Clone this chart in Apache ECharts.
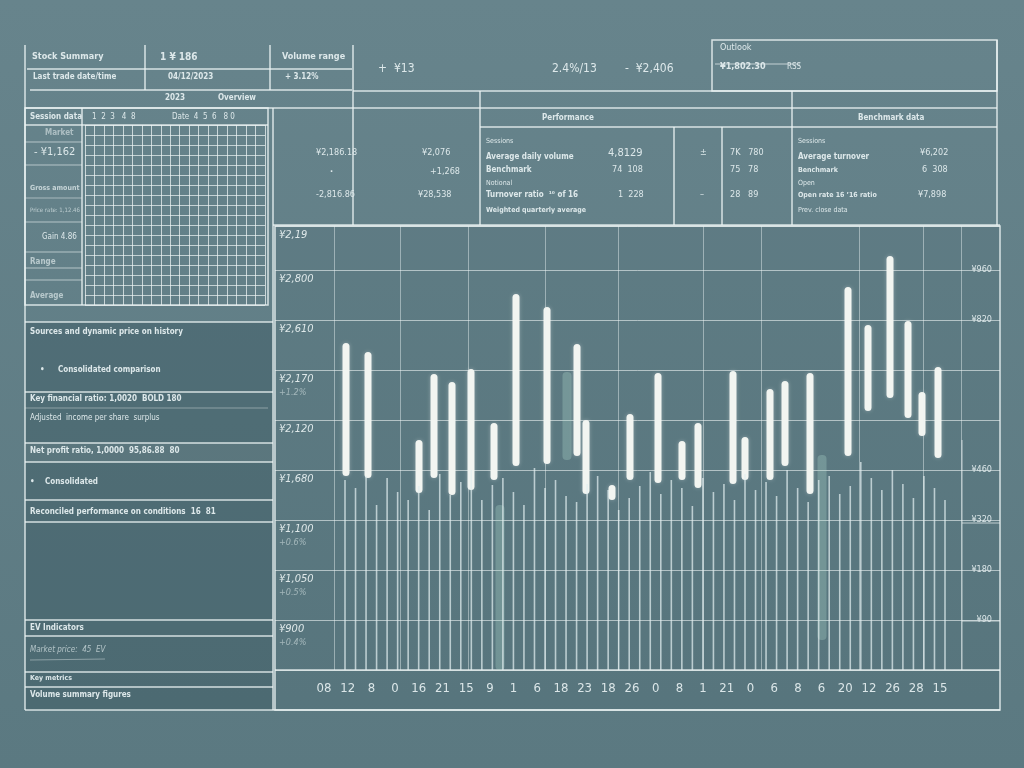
<!DOCTYPE html>
<html>
<head>
<meta charset="utf-8">
<script src="https://cdn.jsdelivr.net/npm/echarts@6/dist/echarts.min.js"></script>
<style>
html,body{margin:0;padding:0;background:#5f7d85;}
#main{width:1024px;height:768px;}
</style>
</head>
<body>
<div id="main"></div>
<script>
// ---- Data ----
const candleX    = [7.1, 9.3, 14.4, 15.9, 17.7, 19.6, 21.9, 24.1, 27.2, 30.2, 31.1, 33.7, 35.5, 38.3, 40.7, 42.3, 45.8, 47.0, 49.5, 51.0, 53.5, 57.3, 59.3, 61.5, 63.3, 64.7, 66.3];
const candleLow  = [1940, 1920, 1770, 1920, 1750, 1800, 1900, 2040, 2060, 2140, 1760, 1700, 1900, 1870, 1900, 1820, 1860, 1900, 1900, 2040, 1760, 2140, 2590, 2720, 2520, 2340, 2120];
const candleHigh = [3270, 3180, 2300, 2960, 2880, 3010, 2470, 3760, 3630, 3260, 2500, 1850, 2560, 2970, 2290, 2470, 2990, 2330, 2810, 2890, 2970, 3830, 3450, 4140, 3490, 2780, 3030];

const volumeValues = [1900, 1820, 1940, 1650, 1920, 1780, 1700, 1840, 1600, 1960, 1750, 1880, 2000, 1700, 1850, 1920, 1780, 1650, 2020, 1820, 1900, 1740, 1680, 1860, 1940, 1800, 1600, 1720, 1840, 1980, 1760, 1900, 1820, 1640, 1920, 1780, 1860, 1700, 1960, 1800, 1880, 1740, 2000, 1820, 1680, 1900, 1940, 1760, 1840, 2080, 1920, 1800, 2000, 1860, 1720, 1940, 1820, 1700];

const highlightX    = [22.5, 29.2, 54.7];
const highlightLow  = [0, 2100, 300];
const highlightHigh = [1650, 2980, 2150];

const verticalGridX = [5.9, 12.5, 19.3, 27.0, 34.3, 42.8, 48.6, 58.4, 64.8, 68.6];

const dayLabels = ['08','12','8','0','16','21','15','9','1','6','18','23','18','26','0','8','1','21','0','6','8','6','20','12','26','28','15'];

const leftTickValues = [500, 1000, 1500, 2000, 2500, 3000, 3500, 4000, 4440];
const leftTickLabels = ['¥900', '¥1,050', '¥1,100', '¥1,680', '¥2,120', '¥2,170', '¥2,610', '¥2,800', '¥2,19'];
const leftTickSub    = ['+0.4%', '+0.5%', '+0.6%', '', '', '+1.2%', '', '', ''];
const rightTickValues = [125, 250, 375, 500, 875, 1000];
const rightTickLabels = ['¥90', '¥180', '¥320', '¥460', '¥820', '¥960'];

const tableCols = ['1','2','3','4','5','6','7','8','9','10','11','12','13','14','15','16','17','18','19'];
const tableRows = ['1','2','3','4','5','6','7','8','9','10','11','12','13','14','15','16','17','18'];

// ---- Decoration (panels, header texts) ----
const LC = 'rgba(236,243,243,0.85)';
const TC = '#dde8ea';
const FONT = 'DejaVu Sans Condensed, DejaVu Sans, sans-serif';
const g = [];
function L(x1, y1, x2, y2, op, w) {
  g.push({type:'line', silent:true, shape:{x1:x1, y1:y1, x2:x2, y2:y2},
    style:{stroke: op ? 'rgba(236,243,243,' + op + ')' : LC, lineWidth: w || 1.5}});
}
function T(x, y, text, size, opt) {
  opt = opt || {};
  g.push({type:'text', silent:true, x:x, y:y,
    style:{text:text, fill: opt.fill || TC, font: (opt.style || '') + ' ' + (opt.weight || 'bold') + ' ' + (size || 9) + 'px ' + FONT,
      align: opt.align || 'left', verticalAlign:'middle', textAlign: opt.align || 'left', textVerticalAlign:'middle', opacity: opt.op || 1}});
}
function R(x, y, w, h, fill, stroke) {
  g.push({type:'rect', silent:true, shape:{x:x, y:y, width:w, height:h},
    style:{fill: fill || 'none', stroke: stroke || null, lineWidth: 1.5}});
}

// shaded panels
R(25, 322, 248, 388, 'rgba(40,70,80,0.30)');
R(25, 443, 248, 19, 'rgba(255,255,255,0.07)');
R(275, 226, 725, 484, 'rgba(40,70,80,0.08)');

// top-left table
L(25, 45, 25, 710); L(353, 45, 353, 225);
L(145, 45, 145, 90); L(270, 45, 270, 90);
L(27, 69, 352, 69); L(30, 90, 352, 90);
T(32, 57, 'Stock Summary', 9); T(160, 57, '1 ¥ 186', 10); T(282, 57, 'Volume range', 9);
T(33, 77, 'Last trade date/time', 8); T(168, 77, '04/12/2023', 8); T(285, 77, '+ 3.12%', 8);
T(165, 98, '2023', 8); T(218, 98, 'Overview', 8);

// header lines
L(353, 91, 997, 91); L(25, 108, 997, 108); L(480, 127, 997, 127);
L(480, 91, 480, 225); L(792, 91, 792, 225); L(674, 127, 674, 225); L(722, 127, 722, 225);
L(997, 40, 997, 225); L(273, 108, 273, 710); L(273, 225, 1000, 225);

// header numbers
T(378, 69, '+  ¥13', 12, {weight:'normal'}); T(552, 69, '2.4%/13', 12, {weight:'normal'}); T(625, 69, '-  ¥2,406', 12, {weight:'normal'});

// top-right box
R(712, 40, 285, 51, null, LC);
L(715, 64, 800, 64, 0.7, 1);
T(720, 48, 'Outlook', 9, {weight:'normal'}); T(720, 67, '¥1,802.30', 9); T(787, 67, 'RSS', 8, {weight:'normal'});

// middle panel (273-480)
T(316, 153, '¥2,186.18', 9, {weight:'normal'}); T(422, 153, '¥2,076', 9, {weight:'normal'});
T(330, 172, '·', 9); T(430, 172, '+1,268', 9, {weight:'normal'});
T(316, 195, '-2,816.86', 9, {weight:'normal'}); T(418, 195, '¥28,538', 9, {weight:'normal'});

// performance panel
T(542, 118, 'Performance', 8);
T(486, 141, 'Sessions', 7, {weight:'normal'}); T(486, 157, 'Average daily volume', 8); T(486, 170, 'Benchmark', 8);
T(486, 183, 'Notional', 7, {weight:'normal'}); T(486, 195, 'Turnover ratio  ¹⁰ of 16', 8); T(486, 210, 'Weighted quarterly average', 7);
T(608, 153, '4,8129', 11, {weight:'normal'}); T(612, 170, '74  108', 9, {weight:'normal'}); T(618, 195, '1  228', 9, {weight:'normal'});
T(700, 153, '±', 9, {weight:'normal'}); T(700, 195, '–', 9, {weight:'normal'});
T(730, 153, '7K   780', 9, {weight:'normal'}); T(730, 170, '75   78', 9, {weight:'normal'}); T(730, 195, '28   89', 9, {weight:'normal'});

// benchmark panel
T(858, 118, 'Benchmark data', 8);
T(798, 141, 'Sessions', 7, {weight:'normal'}); T(798, 157, 'Average turnover', 8); T(798, 170, 'Benchmark', 7);
T(798, 183, 'Open', 7, {weight:'normal'}); T(798, 195, 'Open rate 16 ’16 ratio', 7); T(798, 210, 'Prev. close data', 7, {weight:'normal'});
T(920, 153, '¥6,202', 9, {weight:'normal'}); T(922, 170, '6  308', 9, {weight:'normal'}); T(918, 195, '¥7,898', 9, {weight:'normal'});

// left grid table frame
R(25, 108, 243, 197, null, LC);
L(25, 125, 268, 125); L(82, 108, 82, 305);
L(25, 142, 82, 142, 0.6, 1); L(25, 165, 82, 165, 0.6, 1); L(25, 198, 82, 198, 0.5, 1); L(25, 222, 82, 222, 0.6, 1);
L(25, 252, 82, 252, 0.6, 1); L(25, 268, 82, 268, 0.6, 1); L(25, 280, 82, 280, 0.6, 1);
T(30, 117, 'Session data', 8); T(92, 117, '1  2  3   4  8', 8, {weight:'normal'}); T(172, 117, 'Date  4  5  6   8 0', 8, {weight:'normal'});
T(45, 133, 'Market', 8, {op:0.6}); T(34, 152, '- ¥1,162', 11, {weight:'normal'});
T(30, 188, 'Gross amount', 7, {op:0.8}); T(30, 210, 'Price rate: 1,12.46', 6, {weight:'normal', op:0.7});
T(42, 237, 'Gain 4.86', 8, {weight:'normal'}); T(30, 262, 'Range', 8, {op:0.7}); T(30, 296, 'Average', 8, {op:0.7});

// left lower panel
L(25, 322, 273, 322); L(25, 392, 273, 392); L(25, 408, 268, 408, 0.4, 1); L(25, 443, 273, 443);
L(25, 462, 273, 462); L(25, 500, 273, 500); L(25, 522, 273, 522); L(25, 620, 273, 620);
L(25, 636, 273, 636); L(25, 672, 273, 672); L(25, 687, 273, 687); L(25, 710, 1000, 710);
T(30, 332, 'Sources and dynamic price on history', 8);
T(40, 370, '•', 8); T(58, 370, 'Consolidated comparison', 8);
T(30, 399, 'Key financial ratio: 1,0020  BOLD 180', 8);
T(30, 418, 'Adjusted  income per share  surplus', 8, {weight:'normal'});
T(30, 451, 'Net profit ratio, 1,0000  95,86.88  80', 8);
T(30, 482, '•', 8); T(45, 482, 'Consolidated', 8);
T(30, 512, 'Reconciled performance on conditions  16  81', 8);
T(30, 628, 'EV Indicators', 8);
T(30, 650, 'Market price:  45  EV', 8, {style:'italic', weight:'normal', op:0.7}); L(30, 660, 105, 659, 0.4, 1);
T(30, 678, 'Key metrics', 7);
T(30, 695, 'Volume summary figures', 8);

// main frame
R(275, 226, 725, 484, null, LC);
L(275, 670, 1000, 670);
L(962, 440, 962, 670, 0.7, 1); L(962, 523, 1000, 523, 0.7, 1); L(962, 621, 1000, 621, 0.7, 1);

// ---- Chart ----
const chart = echarts.init(document.getElementById('main'), null, {renderer:'canvas'});

function candleItem(params, api) {
  const x = api.value(0), lo = api.value(1), hi = api.value(2);
  const p1 = api.coord([x, hi]), p2 = api.coord([x, lo]);
  const w = 7;
  return {type:'rect', shape:{x:p1[0] - w / 2, y:p1[1], width:w, height:p2[1] - p1[1], r:3.5},
    style:{fill:'#f2f5f1', shadowBlur:4, shadowColor:'rgba(255,255,255,0.3)'}};
}
function highlightItem(params, api) {
  const x = api.value(0), lo = api.value(1), hi = api.value(2);
  const p1 = api.coord([x, hi]), p2 = api.coord([x, lo]);
  const w = 9;
  return {type:'rect', shape:{x:p1[0] - w / 2, y:p1[1], width:w, height:p2[1] - p1[1], r:4},
    style:{fill:'rgba(175,220,205,0.30)'}};
}

const leftMap = {}, subMap = {}, rightMap = {};
leftTickValues.forEach((v, i) => { leftMap[v] = leftTickLabels[i]; subMap[v] = leftTickSub[i]; });
rightTickValues.forEach((v, i) => { rightMap[v] = rightTickLabels[i]; });

const option = {
  backgroundColor: {type:'linear', x:0, y:0, x2:0, y2:1, colorStops:[{offset:0, color:'#67848c'}, {offset:1, color:'#5b7981'}]},
  animation: false,
  graphic: g,
  grid: [
    {left:275, right:24, top:226, bottom:98},
    {left:345, right:79, top:226, bottom:98},
    {left:324, right:84, top:226, bottom:98},
    {left:85, right:759, top:125, bottom:463}
  ],
  xAxis: [
    {type:'value', gridIndex:0, min:0, max:72.5, show:false},
    {type:'category', gridIndex:1, data: volumeValues.map((v, i) => String(i)), boundaryGap:false, show:false},
    {type:'category', gridIndex:2, data: dayLabels, boundaryGap:false,
      axisLine:{show:false}, axisTick:{show:false},
      axisLabel:{show:true, interval:0, color:'#dbe6e8', fontSize:13, fontFamily:FONT, margin:12}},
    {type:'category', gridIndex:3, data: tableCols, boundaryGap:true,
      axisLine:{show:false}, axisTick:{show:false}, axisLabel:{show:false},
      splitLine:{show:true, interval:0, lineStyle:{color:'rgba(236,243,243,0.75)', width:1}}}
  ],
  yAxis: [
    {type:'value', gridIndex:0, min:0, max:4440, interval:500, position:'left',
      axisLine:{show:false}, axisTick:{show:false},
      splitLine:{show:true, lineStyle:{color:'rgba(236,243,243,0.6)', width:1}},
      axisLabel:{show:true, inside:true, margin:4, verticalAlign:'top', color:'#dbe6e8',
        formatter: function (v) {
          if (!leftMap[v]) return '';
          return subMap[v] ? '{a|' + leftMap[v] + '}\n{b|' + subMap[v] + '}' : '{a|' + leftMap[v] + '}';
        },
        rich:{a:{fontSize:11, fontFamily:FONT, color:'#dfe9ea', fontStyle:'italic', padding:[4,0,0,0]},
              b:{fontSize:9, fontFamily:FONT, color:'rgba(223,233,234,0.55)', fontStyle:'italic', padding:[3,0,0,0]}}}},
    {type:'value', gridIndex:0, min:0, max:1110, interval:125, position:'right',
      axisLine:{show:false}, axisTick:{show:false}, splitLine:{show:false},
      axisLabel:{show:true, inside:true, margin:8, color:'#dbe6e8', fontSize:9, fontFamily:FONT,
        formatter: function (v) { return rightMap[v] || ''; }}},
    {type:'value', gridIndex:1, min:0, max:4440, show:false},
    {type:'value', gridIndex:2, min:0, max:1, show:false},
    {type:'category', gridIndex:3, data: tableRows, boundaryGap:true,
      axisLine:{show:false}, axisTick:{show:false}, axisLabel:{show:false},
      splitLine:{show:true, interval:0, lineStyle:{color:'rgba(236,243,243,0.7)', width:1}}}
  ],
  series: [
    {type:'bar', name:'volume', xAxisIndex:1, yAxisIndex:2, data: volumeValues, barWidth:1.6,
      itemStyle:{color:'rgba(226,238,240,0.72)'}, silent:true},
    {type:'custom', name:'highlight', xAxisIndex:0, yAxisIndex:0, renderItem: highlightItem,
      data: highlightX.map((x, i) => [x, highlightLow[i], highlightHigh[i]]), silent:true},
    {type:'custom', name:'price', xAxisIndex:0, yAxisIndex:0, renderItem: candleItem,
      data: candleX.map((x, i) => [x, candleLow[i], candleHigh[i]]),
      markLine:{silent:true, symbol:'none', label:{show:false},
        lineStyle:{color:'rgba(236,243,243,0.45)', width:1, type:'solid'},
        data: verticalGridX.map(x => ({xAxis:x}))}},
    {type:'scatter', name:'labels', xAxisIndex:2, yAxisIndex:3, data:[], silent:true},
    {type:'scatter', name:'table', xAxisIndex:3, yAxisIndex:4, data:[], silent:true}
  ]
};
chart.setOption(option);
</script>
</body>
</html>
